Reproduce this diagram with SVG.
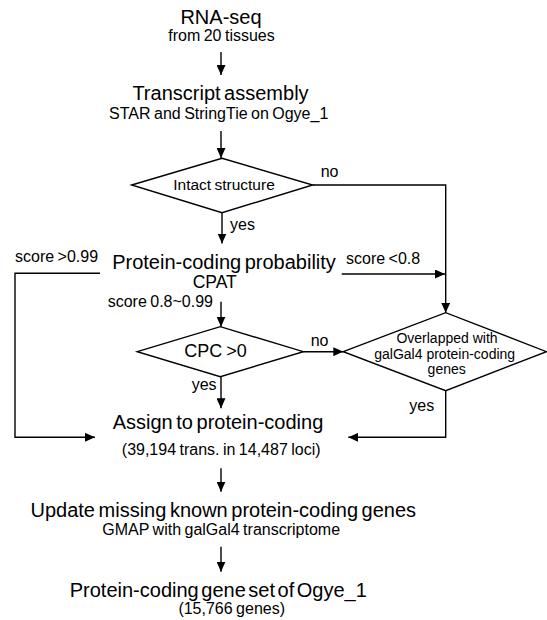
<svg xmlns="http://www.w3.org/2000/svg" width="547" height="620" viewBox="0 0 547 620">
<style>
  text { font-family: "Liberation Sans", Arial, Helvetica, sans-serif; fill: #000; }
  .main { font-size: 20px; word-spacing: -2px; text-anchor: middle; }
  .sub { font-size: 16px; word-spacing: -1px; text-anchor: middle; }
  .lbl { font-size: 16px; word-spacing: -1px; }
  .dtext { font-size: 14px; text-anchor: middle; }
  .shape { fill: #fff; stroke: #000; stroke-width: 1.4; }
  .conn { fill: none; stroke: #000; stroke-width: 1.4; }
</style>
<defs>
  <marker id="arr" markerUnits="userSpaceOnUse" markerWidth="10" markerHeight="9" refX="10" refY="4.5" orient="auto">
    <path d="M0,0 L10,4.5 L0,9 Z" fill="#000"/>
  </marker>
</defs>

<g id="connectors">
  <path class="conn" d="M221,52 V75" marker-end="url(#arr)"/>
  <path class="conn" d="M221,131 V158" marker-end="url(#arr)"/>
  <path class="conn" d="M222,213 V243.5" marker-end="url(#arr)"/>
  <path class="conn" d="M312.7,185 H445.7 V312.7" marker-end="url(#arr)"/>
  <path class="conn" d="M100,273.3 H15 V437.3 H95" marker-end="url(#arr)"/>
  <path class="conn" d="M341.7,274 H445" marker-end="url(#arr)"/>
  <path class="conn" d="M221,301.7 V326.7" marker-end="url(#arr)"/>
  <path class="conn" d="M303.3,351.7 H343.3" marker-end="url(#arr)"/>
  <path class="conn" d="M221,376.7 V408.3" marker-end="url(#arr)"/>
  <path class="conn" d="M445.7,390.7 V437.3 H348.3" marker-end="url(#arr)"/>
  <path class="conn" d="M221,468.3 V491.7" marker-end="url(#arr)"/>
  <path class="conn" d="M221,546.7 V571.7" marker-end="url(#arr)"/>
  <text class="lbl" x="320.7" y="177.3">no</text>
  <text class="lbl" x="230" y="230">yes</text>
  <text class="lbl" x="15" y="261.7">score &gt;0.99</text>
  <text class="lbl" x="346" y="264">score &lt;0.8</text>
  <text class="lbl" x="213" y="306.7" text-anchor="end">score 0.8~0.99</text>
  <text class="lbl" x="310.7" y="346">no</text>
  <text class="lbl" x="191.7" y="390">yes</text>
  <text class="lbl" x="409.3" y="410.7">yes</text>
</g>

<g id="rnaseq">
  <text class="main" x="221" y="24">RNA-seq</text>
  <text class="sub" x="221.5" y="40.7">from 20 tissues</text>
</g>

<g id="assembly">
  <text class="main" x="220.5" y="100">Transcript assembly</text>
  <text class="sub" x="218.7" y="119">STAR and StringTie on Ogye_1</text>
</g>

<g id="intact">
  <polygon class="shape" points="131.7,185 222,158.3 312.7,185 222,212.7"/>
  <text class="sub" x="224" y="190" style="font-size:15.5px">Intact structure</text>
</g>

<g id="cpat">
  <text class="main" x="224" y="269.3">Protein-coding probability</text>
  <text class="sub" x="214.7" y="288.3" style="font-size:17.5px">CPAT</text>
</g>

<g id="cpc">
  <polygon class="shape" points="137.3,351.7 220.3,326.7 303.3,351.7 220.3,376.7"/>
  <text class="sub" x="215.5" y="356.7" style="font-size:18px">CPC &gt;0</text>
</g>

<g id="overlap">
  <polygon class="shape" points="343.3,351.7 445.7,312.7 546.5,351.7 445.7,390.7"/>
  <text class="dtext" x="447" y="343.3">Overlapped with</text>
  <text class="dtext" x="444.7" y="359.3">galGal4 protein-coding</text>
  <text class="dtext" x="446.7" y="374.3">genes</text>
</g>

<g id="assign">
  <text class="main" x="218" y="429.3">Assign to protein-coding</text>
  <text class="sub" x="221.2" y="455">(39,194 trans. in 14,487 loci)</text>
</g>

<g id="update">
  <text class="main" x="223.3" y="517.3">Update missing known protein-coding genes</text>
  <text class="sub" x="221.2" y="535">GMAP with galGal4 transcriptome</text>
</g>

<g id="final">
  <text class="main" x="218.3" y="596.7" style="word-spacing:-3px">Protein-coding gene set of Ogye_1</text>
  <text class="sub" x="231.7" y="614">(15,766 genes)</text>
</g>
</svg>
